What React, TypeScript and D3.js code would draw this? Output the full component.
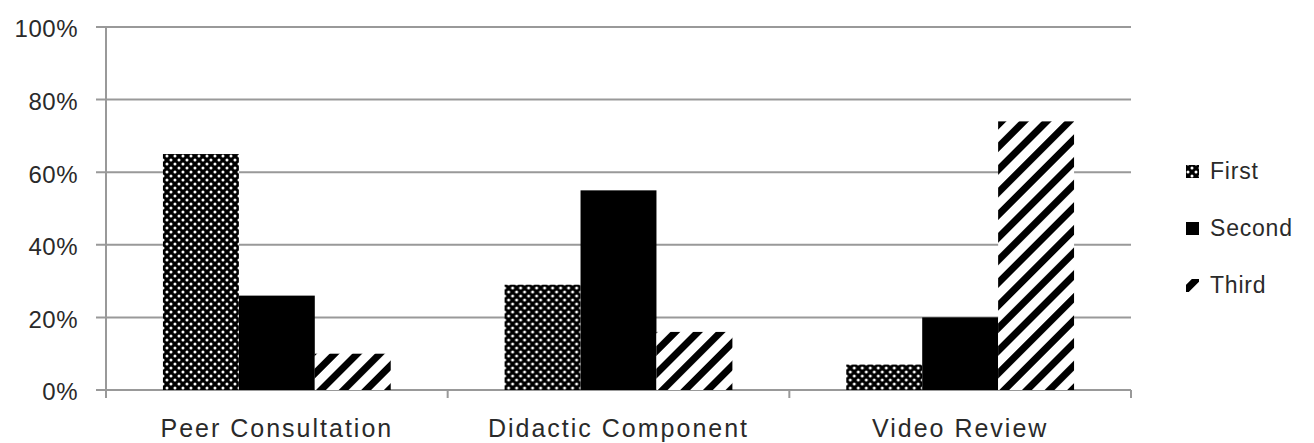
import React from 'react';
import * as d3 from 'd3';

const categories = ['Peer Consultation', 'Didactic Component', 'Video Review'];
const seriesNames = ['First', 'Second', 'Third'];
const firstValues = [65, 29, 7];
const secondValues = [26, 55, 20];
const thirdValues = [10, 16, 74];
const yTicks = [0, 20, 40, 60, 80, 100];

const W = 1314;
const H = 443;
const margin = { top: 27, right: 183, bottom: 53, left: 106 };
const font = '"Liberation Sans", Arial, Helvetica, sans-serif';

const fills = ['url(#pat-first)', '#000', 'url(#pat-third)'];

export default function App() {
  const seriesValues = [firstValues, secondValues, thirdValues];

  const x0 = d3.scaleBand<string>()
    .domain(categories)
    .range([margin.left, W - margin.right])
    .paddingInner(1 / 3)
    .paddingOuter(1 / 6);

  const x1 = d3.scaleBand<string>()
    .domain(seriesNames)
    .range([0, x0.bandwidth()]);

  const y = d3.scaleLinear()
    .domain([0, 100])
    .range([H - margin.bottom, margin.top]);

  const step = x0.step();
  const boundaries = d3.range(categories.length + 1).map(i => margin.left + i * step);

  return (
    <svg width={W} height={H} style={{ position: 'absolute', left: 0, top: 0, background: '#fff' }}>
      <defs>
        <pattern id="pat-first" width={8} height={8} patternUnits="userSpaceOnUse">
          <rect width={8} height={8} fill="#000" />
          <circle cx={0} cy={0} r={1.5} fill="#fff" />
          <circle cx={8} cy={0} r={1.5} fill="#fff" />
          <circle cx={0} cy={8} r={1.5} fill="#fff" />
          <circle cx={8} cy={8} r={1.5} fill="#fff" />
          <circle cx={4} cy={4} r={1.5} fill="#fff" />
        </pattern>
        <pattern id="pat-third" width={16} height={16} patternUnits="userSpaceOnUse" patternTransform="rotate(45)">
          <rect width={16} height={16} fill="#fff" />
          <rect width={7} height={16} fill="#000" />
        </pattern>
      </defs>

      {/* gridlines */}
      {yTicks.map(t => (
        <line key={t} x1={margin.left - 10} x2={W - margin.right} y1={y(t)} y2={y(t)}
          stroke="#999" strokeWidth={2} />
      ))}

      {/* y axis */}
      <line x1={margin.left} x2={margin.left} y1={y(100)} y2={y(0) + 8} stroke="#999" strokeWidth={2} />
      {boundaries.map((b, i) => (
        <line key={i} x1={b} x2={b} y1={y(0)} y2={y(0) + 8} stroke="#999" strokeWidth={2} />
      ))}

      {yTicks.map(t => (
        <text key={t} x={78} y={y(t) + 4} textAnchor="end" dominantBaseline="middle"
          fontFamily={font} fontSize={24} fill="#2a2a2a" letterSpacing={0.5}>
          {t}%
        </text>
      ))}

      {/* bars */}
      {categories.map((c, ci) => (
        <g key={c} transform={`translate(${x0(c)},0)`}>
          {seriesNames.map((s, si) => {
            const v = seriesValues[si][ci];
            return (
              <rect key={s} x={x1(s)} y={y(v)} width={x1.bandwidth()} height={y(0) - y(v)}
                fill={fills[si]} />
            );
          })}
        </g>
      ))}

      {/* category labels */}
      {categories.map(c => (
        <text key={c} x={(x0(c) as number) + x0.bandwidth() / 2} y={437} textAnchor="middle"
          fontFamily={font} fontSize={25} fill="#2a2a2a" letterSpacing={2}>
          {c}
        </text>
      ))}

      {/* legend */}
      {seriesNames.map((s, i) => {
        const cy = 172 + i * 57;
        return (
          <g key={s}>
            <rect x={1186} y={cy - 7} width={13} height={13} fill={fills[i]} />
            <text x={1210} y={cy + 1} dominantBaseline="middle" fontFamily={font} fontSize={23}
              fill="#2a2a2a" letterSpacing={0.8}>
              {s}
            </text>
          </g>
        );
      })}
    </svg>
  );
}
